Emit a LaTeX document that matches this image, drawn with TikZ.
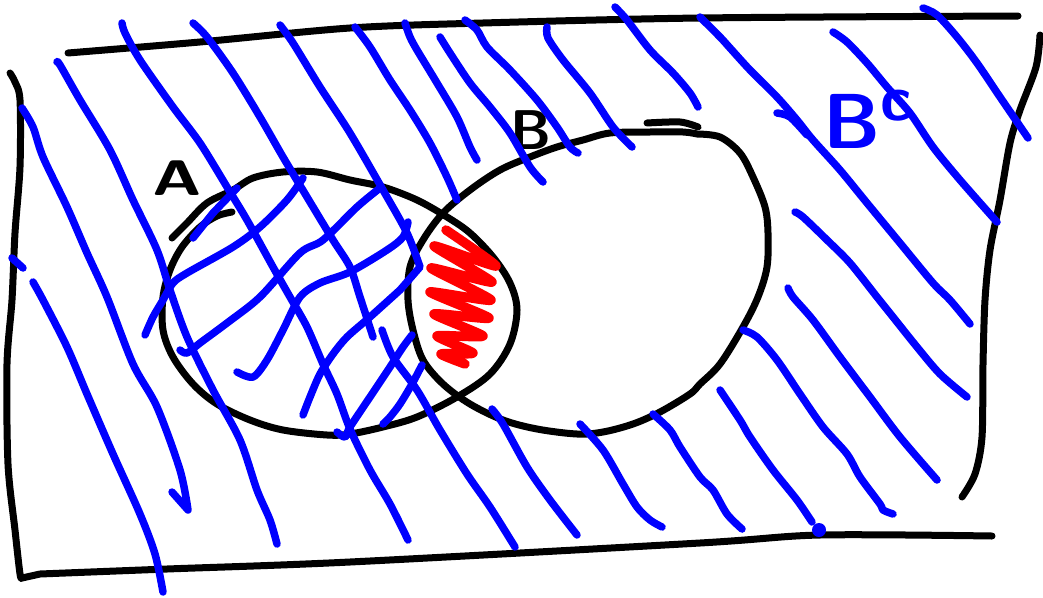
\documentclass[tikz,border=0pt]{standalone}
\begin{document}
\tikzset{
 blk/.style={line width=7pt, line cap=round, line join=round, black},
 blu/.style={line width=7.5pt, line cap=round, line join=round, blue},
 redscrib/.style={line width=9.5pt, line cap=round, line join=round, red},
 lbl/.style={inner sep=0pt},
}
\begin{tikzpicture}[x=1pt,y=-1pt]
\useasboundingbox (0,0) rectangle (1043,597);
% frame
\draw[blk] plot[smooth, tension=0.5] coordinates {(68,53) (200,42) (350,28) (483,23) (700,18) (1018,16)};
\draw[blk] plot[smooth, tension=0.5] coordinates {(10,73) (15,82) (20,100) (20,167) (15,233) (12,300) (7,364) (8,464) (15,530) (20,574) (22,578)}
  -- plot[smooth, tension=0.5] coordinates {(40,574) (167,569) (350,562) (700,543) (820,535) (992,536)};
\draw[blk] plot[smooth, tension=0.5] coordinates {(1040,35) (1036,67) (1020,110) (1010,143) (1000,200) (990,250) (985,300) (983,364) (982,437) (975,474) (962,497)};
% set A
\draw[blk] plot[smooth, tension=0.55] coordinates {(172,238) (187,223) (207,203) (233,190) (253,178) (283,172) (317,172) (350,180) (383,187) (417,200) (447,217) (470,233) (493,257) (510,283) (517,310) (510,344) (490,374) (457,397) (417,417) (383,427) (350,434) (327,435) (283,430) (250,420) (217,404) (193,384) (173,357) (163,330) (163,297) (170,270) (182,247) (200,227) (217,216) (232,212)};
% set B
\draw[blk] plot[smooth, tension=0.5] coordinates {(647,123) (680,122) (698,127)};
\draw[blk] plot[smooth, tension=0.55] coordinates {(697,134) (720,137) (740,153) (753,177) (765,207) (768,233) (767,267) (758,297) (743,327) (720,364) (700,384) (690,394) (660,412) (633,424) (603,432) (577,434) (537,429) (503,420) (470,404) (443,384) (423,360) (413,330) (408,300) (410,267) (423,240) (443,213) (470,190) (500,170) (530,157) (557,147) (583,140) (610,133) (650,132) (683,132) (697,134)};
% red scribble
\draw[redscrib] plot[smooth, tension=0.35] coordinates {(446,230) (496,266) (434,246) (492,282) (431,268) (491,300) (430,292) (489,318) (434,314) (483,336) (437,336) (473,353) (441,354) (465,364)};
% labels
\node[lbl, font=\sffamily\bfseries\fontsize{50}{50}\selectfont, xscale=1.35] (labA) at (177,178) {A};
\node[lbl, font=\sffamily\bfseries\fontsize{56}{56}\selectfont] (labB) at (531,130) {B};
\node[lbl, blue, font=\sffamily\bfseries\fontsize{78}{78}\selectfont, anchor=base west] (labBc) at (823,148) {B\raisebox{28pt}{\fontsize{64}{64}\selectfont c}};
% blue hatching
\draw[blu] plot[smooth, tension=0.5] coordinates {(22,108) (33,127) (43,157) (67,207) (87,253) (107,297) (133,364) (157,407) (180,470) (188,510)} -- (172,492);
\draw[blu] (12,258) -- (23,268);
\draw[blu] plot[smooth, tension=0.5] coordinates {(33,282) (43,300) (67,347) (87,394) (113,454) (140,514) (155,554) (163,592)};
\draw[blu] plot[smooth, tension=0.5] coordinates {(57,62) (60,65) (80,100) (110,150) (133,200) (157,250) (170,290) (187,337) (213,390) (240,440) (257,490) (270,520) (277,544)};
\draw[blu] plot[smooth, tension=0.5] coordinates {(122,23) (125,33) (140,60) (173,107) (200,143) (227,187) (247,220) (273,267) (290,297) (307,327) (323,364) (337,394) (350,429) (370,470) (390,504) (408,540)};
\draw[blu] plot[smooth, tension=0.5] coordinates {(193,23) (207,37) (233,73) (260,117) (283,157) (307,197) (333,240) (350,267) (360,297) (373,337)};
\draw[blu] plot[smooth, tension=0.5] coordinates {(280,25) (293,43) (320,87) (350,133) (383,190) (407,233) (420,267)}
  -- plot[smooth, tension=0.5] coordinates {(400,290) (370,317) (347,337) (333,354) (320,374) (310,397) (303,415)};
\draw[blu] plot[smooth, tension=0.5] coordinates {(382,330) (393,357) (417,390) (440,430) (467,474) (490,507) (515,547)};
\draw[blu] (193,238) -- (213,213) -- (237,188);
\draw[blu] plot[smooth, tension=0.5] coordinates {(145,335) (153,317) (163,300) (173,283) (187,273) (233,247) (260,227) (287,200) (303,178)};
\draw[blu] plot[smooth, tension=0.5] coordinates {(180,350) (187,353) (200,343) (227,323) (260,297) (300,253) (323,240) (357,207) (380,188)};
\draw[blu] plot[smooth, tension=0.5] coordinates {(237,372) (253,377) (267,360) (283,330) (300,297) (320,283) (350,272) (387,250) (403,237) (408,222)};
\draw[blu] plot[smooth, tension=0.5] coordinates {(337,432) (345,437) (350,427) (370,397) (390,367) (403,347) (412,335)};
\draw[blu] plot[smooth, tension=0.5] coordinates {(383,424) (390,417) (400,404) (412,384) (422,365)};
\draw[blu] plot[smooth, tension=0.5] coordinates {(355,27) (370,47) (390,80) (410,110) (430,143) (447,177) (457,200)};
\draw[blu] plot[smooth, tension=0.5] coordinates {(405,23) (410,37) (417,50) (437,83) (457,117) (470,147) (477,160)};
\draw[blu] plot[smooth, tension=0.5] coordinates {(440,37) (450,53) (470,83) (490,107) (510,133) (530,167) (543,182)};
\draw[blu] plot[smooth, tension=0.5] coordinates {(465,20) (477,30) (487,47) (510,70) (537,100) (557,127) (570,147) (578,153)};
\draw[blu] plot[smooth, tension=0.5] coordinates {(547,27) (548,38) (563,60) (590,93) (613,127) (632,147)};
\draw[blu] plot[smooth, tension=0.5] coordinates {(615,7) (627,20) (650,50) (673,73) (690,93) (698,107)};
\draw[blu] plot[smooth, tension=0.5] coordinates {(700,17) (720,37) (730,48) (750,70) (777,97) (797,120) (813,140) (840,170) (867,203) (900,243) (933,283) (950,300) (970,324)};
\draw[blu] plot[smooth, tension=0.5] coordinates {(777,113) (790,117) (807,135)};
\draw[blu] plot[smooth, tension=0.5] coordinates {(833,32) (847,42) (867,63) (887,87) (910,113) (933,147) (960,180) (997,222)};
\draw[blu] plot[smooth, tension=0.5] coordinates {(923,8) (937,15) (957,37) (977,63) (1000,97) (1028,138)};
\draw[blu] plot[smooth, tension=0.5] coordinates {(795,212) (803,217) (827,240) (850,263) (877,297) (893,317) (917,347) (940,374) (967,397)};
\draw[blu] plot[smooth, tension=0.5] coordinates {(788,288) (793,297) (813,320) (840,357) (870,397) (900,437) (937,480)};
\draw[blu] plot[smooth, tension=0.5] coordinates {(743,330) (757,337) (777,360) (800,394) (823,427) (847,454) (860,477) (880,504) (883,510) (893,514)};
\draw[blu] plot[smooth, tension=0.5] coordinates {(720,390) (740,420) (750,437) (773,470) (797,500) (812,522)};
\fill[blue] (819,530) circle (7pt);
\draw[blu] plot[smooth, tension=0.5] coordinates {(653,414) (670,430) (680,447) (700,477) (713,490) (727,514) (742,529)};
\draw[blu] plot[smooth, tension=0.5] coordinates {(580,424) (603,450) (623,484) (637,507) (650,520) (662,527)};
\draw[blu] plot[smooth, tension=0.5] coordinates {(492,409) (503,424) (527,467) (550,500) (577,535)};
\end{tikzpicture}
\end{document}
